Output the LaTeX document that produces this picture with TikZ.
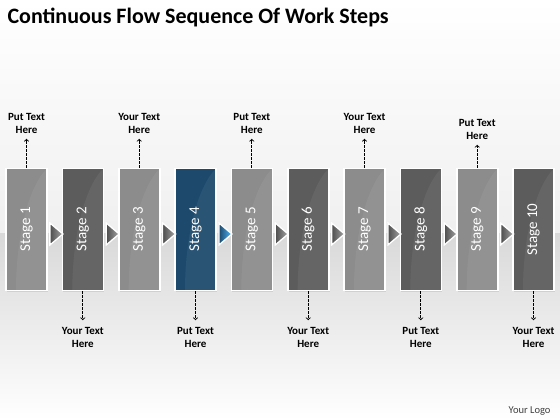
\documentclass[tikz,border=0pt]{standalone}
\usepackage{graphicx}
\usepackage{fontspec}
\setmainfont{Carlito}
\usetikzlibrary{shapes.geometric,shadows}

\definecolor{stagelight}{HTML}{8C8C8C}
\definecolor{stagedark}{HTML}{5C5C5C}
\definecolor{stageblue}{HTML}{1D4A6C}

\begin{document}
\begin{tikzpicture}[x=1pt, y=-1pt,
  stage/.style={rectangle, draw=white, line width=1.6pt, minimum width=41pt, minimum height=122pt,
    inner sep=0pt, text=white, font=\fontsize{15}{15}\selectfont,
    drop shadow={opacity=0.2, shadow xshift=1pt, shadow yshift=-1pt},
    path picture={\fill[white, opacity=0.06] ([xshift=10pt]path picture bounding box.south west)
      .. controls +(0pt,50pt) and +(-20pt,-20pt) .. (path picture bounding box.north east)
      -- (path picture bounding box.south east) -- cycle;}},
  tri/.style={isosceles triangle, isosceles triangle stretches, shape border rotate=0,
    minimum width=22pt, minimum height=13pt, inner sep=0pt, draw=white, line width=1.3pt,
    left color=black!70, right color=black!35},
  lbl/.style={align=center, font=\bfseries\fontsize{11}{13}\selectfont, inner sep=1pt},
  pointer/.style={->, line width=0.9pt, dash pattern=on 2.5pt off 1.5pt}]

  % background
  \fill[top color=white, bottom color=black!6] (0,0) rectangle (560,233);
  \fill[top color=black!15, bottom color=white] (0,233) rectangle (560,420);

  \node[anchor=west, font=\bfseries\fontsize{22}{26}\selectfont] (title) at (4,17)
    {Continuous Flow Sequence Of Work Steps};

  % stages
  \node[stage, fill=stagelight] (s1) at (26.5,229.5) {\rotatebox{90}{Stage 1}};
  \node[stage, fill=stagedark] (s2) at (82.8,229.5) {\rotatebox{90}{Stage 2}};
  \node[stage, fill=stagelight] (s3) at (139.2,229.5) {\rotatebox{90}{Stage 3}};
  \node[stage, fill=stageblue] (s4) at (195.5,229.5) {\rotatebox{90}{Stage 4}};
  \node[stage, fill=stagelight] (s5) at (251.8,229.5) {\rotatebox{90}{Stage 5}};
  \node[stage, fill=stagedark] (s6) at (308.2,229.5) {\rotatebox{90}{Stage 6}};
  \node[stage, fill=stagelight] (s7) at (364.5,229.5) {\rotatebox{90}{Stage 7}};
  \node[stage, fill=stagedark] (s8) at (420.8,229.5) {\rotatebox{90}{Stage 8}};
  \node[stage, fill=stagelight] (s9) at (477.2,229.5) {\rotatebox{90}{Stage 9}};
  \node[stage, fill=stagedark] (s10) at (533.5,229.5) {\rotatebox{90}{Stage 10}};

  % triangles between the stages
  \node[tri] (t1) at (55,234) {};
  \node[tri] (t2) at (111.3,234) {};
  \node[tri] (t3) at (167.7,234) {};
  \node[tri, left color=stageblue, right color=cyan!60!blue!70] (t4) at (224,234) {};
  \node[tri] (t5) at (280.3,234) {};
  \node[tri] (t6) at (336.7,234) {};
  \node[tri] (t7) at (393,234) {};
  \node[tri] (t8) at (449.3,234) {};
  \node[tri] (t9) at (505.7,234) {};

  % labels above
  \node[lbl] (l1) at (26.5,123.5) {Put Text\\Here};
  \node[lbl] (l3) at (139.2,123.5) {Your Text\\Here};
  \node[lbl] (l5) at (251.8,123.5) {Put Text\\Here};
  \node[lbl] (l7) at (364.5,123.5) {Your Text\\Here};
  \node[lbl] (l9) at (477.2,129.5) {Put Text\\Here};

  % labels below
  \node[lbl] (l2) at (82.8,337.5) {Your Text\\Here};
  \node[lbl] (l4) at (195.5,337.5) {Put Text\\Here};
  \node[lbl] (l6) at (308.2,337.5) {Your Text\\Here};
  \node[lbl] (l8) at (420.8,337.5) {Put Text\\Here};
  \node[lbl] (l10) at (533.5,337.5) {Your Text\\Here};

  \draw[pointer, shorten >=4pt] (s1.north) -- (l1.south);
  \draw[pointer, shorten >=4pt] (s3.north) -- (l3.south);
  \draw[pointer, shorten >=4pt] (s5.north) -- (l5.south);
  \draw[pointer, shorten >=4pt] (s7.north) -- (l7.south);
  \draw[pointer, shorten >=4pt] (s9.north) -- (l9.south);

  \draw[pointer, shorten >=6pt] (s2.south) -- (l2.north);
  \draw[pointer, shorten >=6pt] (s4.south) -- (l4.north);
  \draw[pointer, shorten >=6pt] (s6.south) -- (l6.north);
  \draw[pointer, shorten >=6pt] (s8.south) -- (l8.north);
  \draw[pointer, shorten >=6pt] (s10.south) -- (l10.north);

  \node[anchor=east, text=black!75, font=\fontsize{10.5}{12}\selectfont] (logo) at (554,411) {Your Logo};
\end{tikzpicture}
\end{document}
